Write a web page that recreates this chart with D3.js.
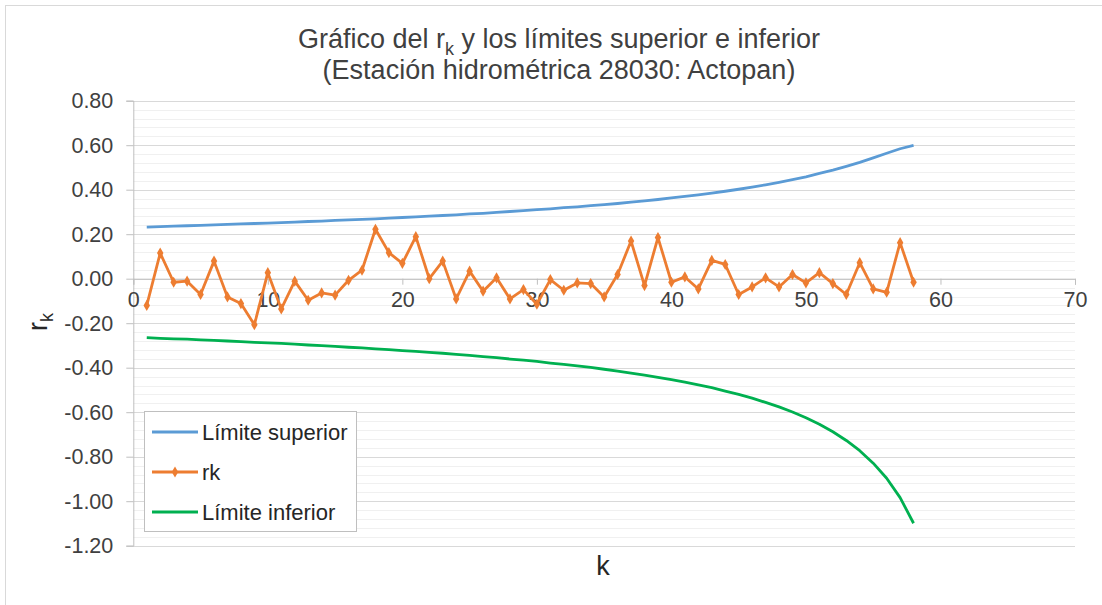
<!DOCTYPE html>
<html><head><meta charset="utf-8">
<script src="https://cdn.jsdelivr.net/npm/d3@7"></script>
<style>body{margin:0;background:#fff}svg{display:block}text{font-family:"Liberation Sans",Arial,sans-serif}</style>
</head><body><svg id="c" width="1102" height="605"></svg>
<script>
const kValues = d3.range(1, 59);
const rk = [-0.12,0.115,-0.016,-0.011,-0.071,0.079,-0.082,-0.112,-0.207,0.027,
-0.136,-0.011,-0.097,-0.064,-0.074,-0.007,0.038,0.222,0.117,0.069,
0.189,0.000,0.079,-0.091,0.034,-0.056,0.004,-0.091,-0.049,-0.115,
-0.004,-0.052,-0.019,-0.022,-0.082,0.019,0.169,-0.031,0.185,-0.016,
0.008,-0.046,0.082,0.064,-0.071,-0.037,0.004,-0.037,0.019,-0.019,
0.027,-0.022,-0.071,0.072,-0.046,-0.061,0.162,-0.016];
const limSup = [0.232,0.234,0.236,0.238,0.240,0.242,0.244,0.246,0.248,0.250,
0.252,0.254,0.257,0.259,0.262,0.264,0.267,0.269,0.272,0.275,
0.278,0.281,0.284,0.287,0.291,0.294,0.298,0.302,0.306,0.310,
0.314,0.319,0.323,0.328,0.333,0.338,0.344,0.350,0.356,0.363,
0.370,0.377,0.385,0.393,0.402,0.412,0.422,0.433,0.445,0.458,
0.473,0.488,0.505,0.523,0.543,0.564,0.584,0.599];
const limInf = [-0.265,-0.268,-0.270,-0.272,-0.275,-0.277,-0.280,-0.283,-0.286,-0.288,
-0.291,-0.294,-0.298,-0.301,-0.304,-0.308,-0.311,-0.315,-0.319,-0.323,
-0.327,-0.331,-0.335,-0.340,-0.345,-0.350,-0.355,-0.361,-0.366,-0.372,
-0.379,-0.385,-0.392,-0.399,-0.407,-0.415,-0.424,-0.433,-0.443,-0.454,
-0.465,-0.477,-0.490,-0.505,-0.520,-0.537,-0.556,-0.576,-0.599,-0.625,
-0.654,-0.688,-0.727,-0.773,-0.829,-0.897,-0.984,-1.099];
const xTicks = [0,10,20,30,40,50,60,70];
const yTicks = [0.8,0.6,0.4,0.2,0,-0.2,-0.4,-0.6,-0.8,-1.0,-1.2];
const seriesNames = ["Límite superior","rk","Límite inferior"];
const colors = ["#5b9bd5","#ed7d31","#00b050"];

const svg = d3.select("#c");
svg.append("rect").attr("x",5.5).attr("y",5.5).attr("width",1120).attr("height",620)
  .attr("fill","#fff").attr("stroke","#d9d9d9");

const x = d3.scaleLinear().domain([0,70]).range([133.3,1075]);
const y = d3.scaleLinear().domain([-1.2,0.8]).range([545.7,100.7]);

// minor gridlines
const minor = d3.range(-1.2, 0.8001, 0.04).map(v => +v.toFixed(2));
svg.append("g").selectAll("line").data(minor).join("line")
  .attr("x1",x(0)).attr("x2",x(70))
  .attr("y1",d=>Math.round(y(d))+0.5).attr("y2",d=>Math.round(y(d))+0.5)
  .attr("stroke","#f0f0f0").attr("stroke-width",1);
svg.append("g").selectAll("line").data(yTicks).join("line")
  .attr("x1",x(0)).attr("x2",x(70))
  .attr("y1",d=>Math.round(y(d))+0.5).attr("y2",d=>Math.round(y(d))+0.5)
  .attr("stroke","#d9d9d9").attr("stroke-width",1);

// y axis
const fmt = d3.format(".2f");
const yAxis = d3.axisLeft(y).tickValues(yTicks).tickFormat(d => fmt(d).replace("\u2212","-")).tickSize(7).tickPadding(13);
const gy = svg.append("g").attr("transform",`translate(${x(0)},0)`).call(yAxis);
gy.select(".domain").attr("stroke","#bfbfbf");
gy.selectAll(".tick line").attr("stroke","#bfbfbf");
gy.selectAll("text").attr("font-size",21.5).attr("fill","#404040");

// x axis at y=0
const xAxis = d3.axisBottom(x).tickValues(xTicks).tickSize(6).tickPadding(7);
const gx = svg.append("g").attr("transform",`translate(0,${y(0)})`).call(xAxis);
gx.select(".domain").attr("stroke","#bfbfbf");
gx.selectAll(".tick line").attr("stroke","#bfbfbf");
gx.selectAll("text").attr("font-size",21.5).attr("fill","#404040");

// lines
const series = [limSup, rk, limInf];
const line = d3.line().x((d,i)=>x(kValues[i])).y(d=>y(d));
series.forEach((s,i)=>{
  svg.append("path").datum(s).attr("d",line).attr("fill","none")
    .attr("stroke",colors[i]).attr("stroke-width",2.8).attr("stroke-linejoin","round");
});
svg.append("g").selectAll("path").data(rk).join("path")
  .attr("transform",(d,i)=>`translate(${x(kValues[i])},${y(d)})`)
  .attr("d",d3.symbol(d3.symbolDiamond,36)).attr("fill",colors[1]);

// title
const t = svg.append("text").attr("text-anchor","middle").attr("font-size",27).attr("fill","#404040");
const l1 = t.append("tspan").attr("x",559).attr("y",48);
l1.append("tspan").text("Gráfico del r");
l1.append("tspan").attr("font-size",18).attr("dy",7).text("k");
l1.append("tspan").attr("dy",-7).text(" y los límites superior e inferior");
t.append("tspan").attr("x",559).attr("y",79).text("(Estación hidrométrica 28030: Actopan)");

// axis titles
svg.append("text").attr("x",603).attr("y",575).attr("text-anchor","middle")
  .attr("font-size",27).attr("fill","#262626").text("k");
const yt = svg.append("text").attr("transform","translate(47,322) rotate(-90)")
  .attr("text-anchor","middle").attr("font-size",27).attr("fill","#262626");
yt.append("tspan").text("r");
yt.append("tspan").attr("font-size",18).attr("dy",6).text("k");

// legend
const lg = svg.append("g");
lg.append("rect").attr("x",144.5).attr("y",411.5).attr("width",212).attr("height",120)
  .attr("fill","#fff").attr("stroke","#bfbfbf");
seriesNames.forEach((n,i)=>{
  const yy = 432 + i*40;
  lg.append("line").attr("x1",152).attr("x2",198).attr("y1",yy).attr("y2",yy)
    .attr("stroke",colors[i]).attr("stroke-width",2.8);
  if(i===1) lg.append("path").attr("transform",`translate(175,${yy})`)
    .attr("d",d3.symbol(d3.symbolDiamond,36)).attr("fill",colors[1]);
  lg.append("text").attr("x",202).attr("y",yy+8).attr("font-size",22).attr("fill","#262626").text(n);
});
</script></body></html>
